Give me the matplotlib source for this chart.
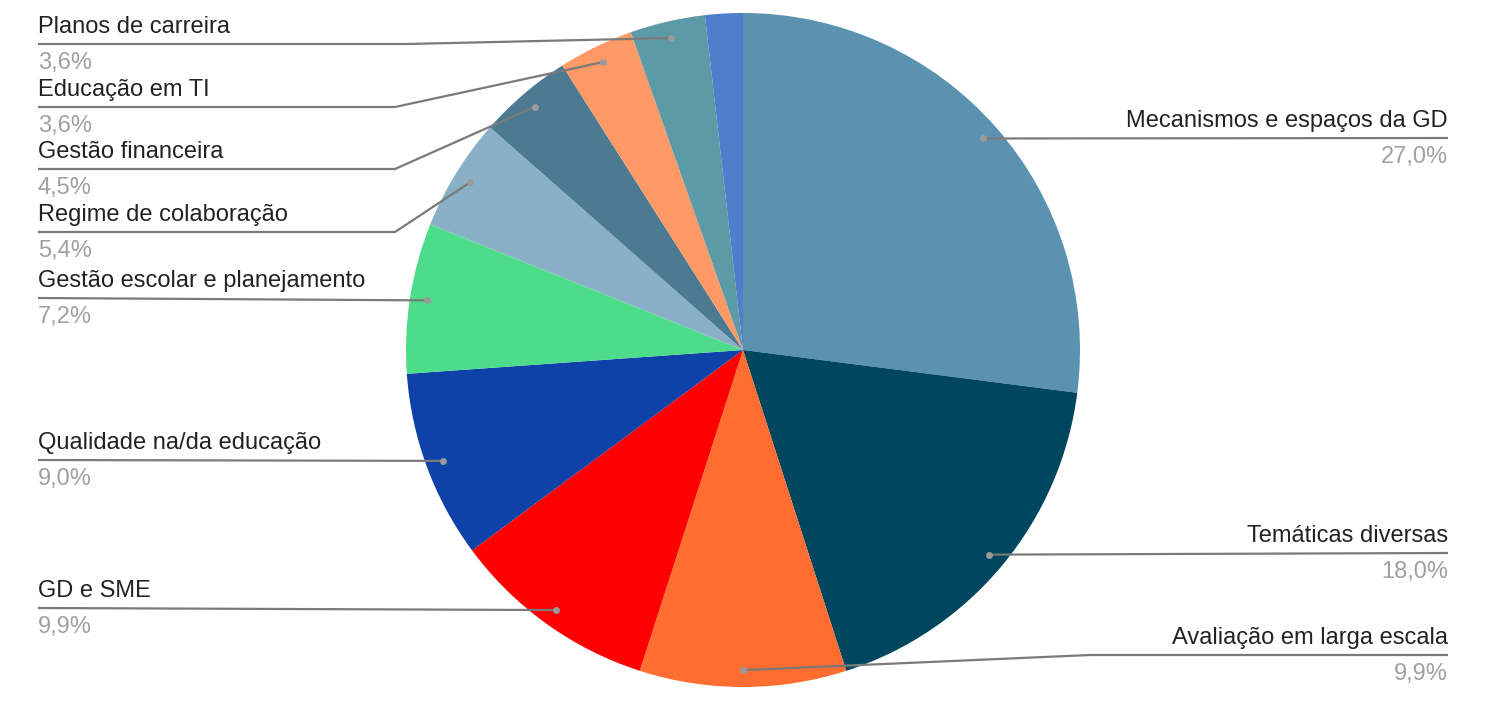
import numpy as np
import matplotlib.pyplot as plt

# counts per theme (clockwise from 12 o'clock)
labels = ['Mecanismos e espaços da GD', 'Temáticas diversas', 'Avaliação em larga escala',
          'GD e SME', 'Qualidade na/da educação', 'Gestão escolar e planejamento',
          'Regime de colaboração', 'Gestão financeira', 'Educação em TI',
          'Planos de carreira', '']
counts = [30, 20, 11, 11, 10, 8, 6, 5, 4, 4, 2]
colors = ['#5a92b0', '#00465f', '#ff6d31', '#ff0000', '#0f42a8', '#4ddc8a',
          '#89b0c6', '#4c7a91', '#ff9966', '#5b9aa6', '#4f7ecb']

W, H = 1487, 722
cx, cy, R = 743, 350, 337

# label layout: (side, underline y in image px, elbow x or None)
label_pos = {
    'Mecanismos e espaços da GD': ('right', 138, None),
    'Temáticas diversas': ('right', 553, None),
    'Avaliação em larga escala': ('right', 655, 1090),
    'GD e SME': ('left', 608, None),
    'Qualidade na/da educação': ('left', 460, None),
    'Gestão escolar e planejamento': ('left', 298, None),
    'Regime de colaboração': ('left', 232, 395),
    'Gestão financeira': ('left', 169, 395),
    'Educação em TI': ('left', 107, 395),
    'Planos de carreira': ('left', 44, 407),
}

plt.rcParams['font.family'] = ['Liberation Sans', 'DejaVu Sans']

fig = plt.figure(figsize=(W / 100, H / 100), dpi=100)
ax = fig.add_axes([0, 0, 1, 1])

total = sum(counts)
wedges, _ = ax.pie(counts, colors=colors, startangle=90, counterclock=False,
                   center=(cx, H - cy), radius=R,
                   wedgeprops=dict(linewidth=0))
ax.set_xlim(0, W)
ax.set_ylim(0, H)
ax.set_aspect('equal')
ax.axis('off')

line_col = '#7a7a7a'
for w, lab, n in zip(wedges, labels, counts):
    if not lab:
        continue
    ang = np.deg2rad((w.theta1 + w.theta2) / 2)
    dx = cx + 0.95 * R * np.cos(ang)
    dy = (H - cy) + 0.95 * R * np.sin(ang)
    side, ly, elbow = label_pos[lab]
    ly = H - ly
    x0 = 38 if side == 'left' else 1448
    ha = 'left' if side == 'left' else 'right'
    xs = [x0, elbow, dx] if elbow else [x0, dx]
    ys = [ly, ly, dy] if elbow else [ly, dy]
    ax.plot(xs, ys, color=line_col, lw=1.6, solid_capstyle='butt', zorder=3)
    ax.plot([dx], [dy], 'o', color='#9a9a9a', ms=5, mec='none', zorder=4)
    pct = f'{100 * n / total:.1f}%'.replace('.', ',')
    ax.text(x0, ly + 6, lab, ha=ha, va='bottom', fontsize=17, color='#222222')
    ax.text(x0, ly - 8, pct, ha=ha, va='top', fontsize=17, color='#a0a0a0')

fig.savefig('out.png', dpi=100, facecolor='white')
